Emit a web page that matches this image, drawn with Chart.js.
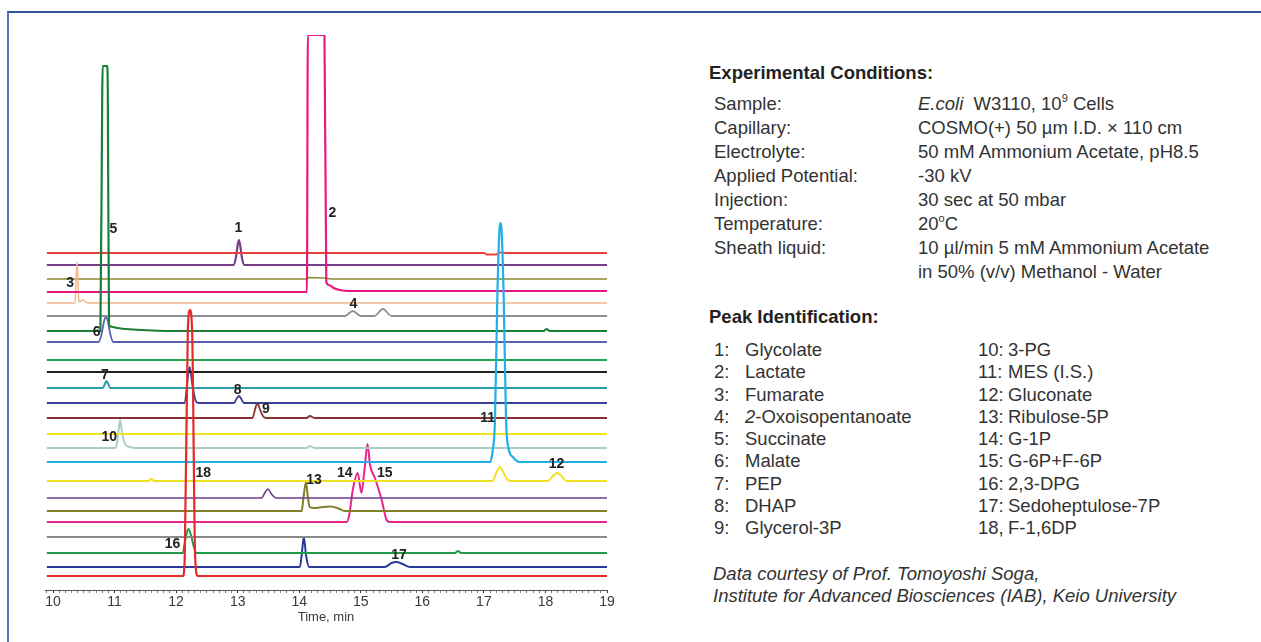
<!DOCTYPE html>
<html>
<head>
<meta charset="utf-8">
<script src="https://cdn.jsdelivr.net/npm/chart.js@4.4.1/dist/chart.umd.min.js"></script>
<style>
  html, body { margin:0; padding:0; background:#fff; }
  body { width:1261px; height:642px; position:relative; overflow:hidden; font-family:"Liberation Sans", Arial, sans-serif; color:#333; }
  #frame { position:absolute; left:7px; top:11px; width:1400px; height:800px; border-top:2px solid #2c5597; border-left:2px solid #5576b8; }
  #chartBox { position:absolute; left:0; top:0; width:640px; height:642px; }
  .t { position:absolute; white-space:nowrap; font-size:18.5px; line-height:20px; }
  .h { font-weight:bold; color:#222; }
  sup { font-size:11px; line-height:0; position:relative; top:-1px; }
</style>
</head>
<body>
<div id="frame"></div>
<div id="chartBox"><canvas id="c" width="640" height="642"></canvas></div>
<div id="panel"></div>
<script>
// ---------- DATA (time in min, signal height above each trace's baseline) ----------
const tr01 = [[9.9,0],[17.0,0],[17.05,-1.5],[17.2,-1.5],[17.25,0.5],[17.4,0],[19,0]];
const tr02 = [[9.9,0],[12.93,0],[12.97,7],[13.0,20],[13.02,25],[13.04,20],[13.07,7],[13.11,0],[19,0]];
const tr03 = [[9.9,0],[14.12,0],[14.14,1.5],[14.4,1],[14.55,0],[19,0]];
const tr04 = [[9.9,0],[14.125,0],[14.14,257],[14.41,257],[14.44,10],[14.48,7],[14.56,4],[14.66,2],[14.8,1],[19,1]];
const tr05 = [[9.9,0],[10.36,0],[10.375,25],[10.39,41],[10.405,25],[10.42,1],[10.45,2],[10.49,3],[10.53,1],[10.58,0],[19,0]];
const tr06 = [[9.9,0],[14.74,0],[14.87,5],[15.0,0],[15.22,0],[15.36,7],[15.5,0],[19,0]];
const tr07 = [[9.9,0],[10.77,0],[10.80,240],[10.807,265],[10.881,265],[10.89,240],[10.91,6],[10.97,4],[11.04,3],[11.3,1.5],[11.6,0.5],[12,0],[17.97,0],[18.02,2],[18.07,0],[19,0]];
const tr08 = [[9.9,0],[10.74,0],[10.79,8],[10.83,21],[10.86,25],[10.89,21],[10.93,8],[10.98,0],[19,0]];
const tr09 = [[9.9,0],[19,0]];
const tr10 = [[9.9,0],[19,0]];
const tr11 = [[9.9,0],[10.81,0],[10.85,5],[10.87,7],[10.89,5],[10.93,0],[19,0]];
const tr12 = [[9.9,0],[12.14,0],[12.18,20],[12.22,36],[12.26,20],[12.32,2],[12.36,0],[12.94,0],[12.98,4],[13.02,7],[13.06,4],[13.1,0],[19,0]];
const tr13 = [[9.9,0],[13.24,0],[13.28,8],[13.32,15],[13.36,9],[13.41,2],[13.46,0],[14.12,0],[14.17,2],[14.25,0],[19,0]];
const tr14 = [[9.9,0],[19,0]];
const tr15 = [[9.9,0],[11.02,0],[11.06,15],[11.09,28],[11.12,16],[11.17,4],[11.25,1],[11.35,0],[14.12,0],[14.17,2],[14.25,0],[19,0]];
const tr16 = [[9.9,0],[17.10,0],[17.14,10],[17.18,42],[17.22,170],[17.255,234],[17.27,239],[17.285,234],[17.32,170],[17.36,42],[17.40,14],[17.47,5],[17.58,0],[19,0]];
const tr17 = [[9.9,0],[11.55,0],[11.6,2],[11.65,0],[17.14,0],[17.2,8],[17.26,14],[17.32,8],[17.39,1],[17.45,0],[18.04,0],[18.12,5],[18.19,8],[18.26,5],[18.34,0],[19,0]];
const tr18 = [[9.9,0],[13.39,0],[13.44,5],[13.49,9],[13.55,4],[13.62,0],[19,0]];
const tr19 = [[9.9,0],[14.04,0],[14.07,14],[14.11,29],[14.14,14],[14.17,4],[14.24,3],[14.38,4],[14.5,4.5],[14.62,3],[14.74,0],[19,0]];
const tr20 = [[9.9,0],[14.77,0],[14.81,6],[14.87,32],[14.95,49],[15.01,29],[15.06,52],[15.11,78],[15.15,57],[15.23,44],[15.34,22],[15.42,2],[15.47,0],[19,0]];
const tr21 = [[9.9,0],[19,0]];
const tr22 = [[9.9,0],[12.11,0],[12.14,10],[12.2,24],[12.24,18],[12.28,8],[12.33,0],[16.53,0],[16.58,2],[16.63,0],[19,0]];
const tr23 = [[9.9,0],[14.01,0],[14.04,12],[14.075,30],[14.11,12],[14.16,0],[15.39,0],[15.5,4],[15.58,5],[15.68,3],[15.8,0],[19,0]];
const tr24 = [[9.9,0],[12.11,0],[12.14,18],[12.19,245],[12.225,266],[12.26,245],[12.31,18],[12.35,0],[19,0]];

const traces  = [tr01,tr02,tr03,tr04,tr05,tr06,tr07,tr08,tr09,tr10,tr11,tr12,tr13,tr14,tr15,tr16,tr17,tr18,tr19,tr20,tr21,tr22,tr23,tr24];
// vertical stacking offset of each trace's baseline
const offsets = [337,325,311,298,287,274,259,248,230,218,202,187,172,156,142,128,109,92,79,68,53,37,23,14];

const tickLabels = ['10','11','12','13','14','15','16','17','18','19'];

// peak number labels: [text, time, level]
const peakLabels = [
  ['1',13.01,362],['2',14.54,377],['3',10.28,307],['4',14.88,286],['5',10.98,361],
  ['6',10.71,258],['7',10.845,215],['8',13.0,200],['9',13.46,181],['10',10.915,153],
  ['11',17.06,172],['12',18.18,126],['13',14.24,110],['14',14.74,117],['15',15.39,117],
  ['16',11.94,46],['17',15.62,35],['18',12.44,117]
];

// ---------- STYLE ----------
const colors = ['#e8403a','#7a3d8c','#8c8a2e','#e9187f','#f2b88a','#8a9098','#18803a','#5a62b0',
                '#22a84a','#222222','#2a9ba8','#3a4098','#8a3030','#f2e41e','#a9cfc2','#1fb0e6',
                '#f0e020','#6e3c8a','#808028','#e8258c','#8a8a8a','#1f9a4a','#2a3898','#e52a2a'];
const widths = [1.8,2.2,1.6,2.2,1.5,1.8,2.2,1.8,2.2,2.2,2,1.8,1.8,2,2,2.2,2,1.6,2,2,1.8,2,2,2.2];
const drawOrder = {23:0, 15:1, 6:2, 3:3, 4:4};

const datasets = traces.map((tr, i) => ({
  data: tr.map(p => ({x: p[0], y: p[1] + offsets[i]})),
  borderColor: colors[i],
  borderWidth: widths[i],
  pointRadius: 0,
  fill: false,
  cubicInterpolationMode: 'monotone',
  order: (i in drawOrder) ? drawOrder[i] : 10
}));

const isInt = v => Math.abs(v - Math.round(v)) < 1e-6;

const labelPlugin = {
  id: 'peakLabels',
  afterDatasetsDraw(chart) {
    const {ctx, scales: {x, y}} = chart;
    ctx.save();
    ctx.font = 'bold 14px "Liberation Sans", Arial, sans-serif';
    ctx.fillStyle = '#222';
    ctx.textAlign = 'center';
    ctx.textBaseline = 'middle';
    peakLabels.forEach(([txt, t, v]) => ctx.fillText(txt, x.getPixelForValue(t), y.getPixelForValue(v)));
    ctx.restore();
  }
};

new Chart(document.getElementById('c'), {
  type: 'line',
  data: { datasets },
  plugins: [labelPlugin],
  options: {
    responsive: false,
    animation: false,
    devicePixelRatio: 1,
    layout: { padding: { left: 45, right: 33, top: 35, bottom: 17 } },
    plugins: { legend: { display: false }, tooltip: { enabled: false } },
    scales: {
      x: {
        type: 'linear', min: 9.87, max: 19,
        afterBuildTicks: s => {
          const t = [];
          for (let i = 99; i <= 190; i++) t.push({ value: i / 10 });
          s.ticks = t;
        },
        afterFit: s => { s.height = 35; },
        grid: {
          drawOnChartArea: false, drawTicks: true, tickLength: 3,
          tickColor: c => (c.tick && isInt(c.tick.value)) ? '#333' : '#777',
          tickWidth: 1
        },
        border: { display: true, color: '#555', width: 1 },
        ticks: {
          autoSkip: false, maxRotation: 0, minRotation: 0, padding: 1,
          color: '#3a3a3a',
          font: { family: '"Liberation Sans", Arial, sans-serif', size: 14 },
          callback: v => isInt(v) ? tickLabels[Math.round(v) - 10] : ''
        },
        title: {
          display: true, text: 'Time, min', color: '#3a3a3a',
          font: { family: '"Liberation Sans", Arial, sans-serif', size: 13 },
          padding: { top: 2, bottom: 0 }
        }
      },
      y: { display: false, min: 0, max: 555 }
    }
  }
});

// ---------- TEXT PANEL ----------
const condLabels = ['Sample:','Capillary:','Electrolyte:','Applied Potential:','Injection:','Temperature:','Sheath liquid:',''];
const condValues = ['<i>E.coli</i>&nbsp; W3110, 10<sup>9</sup> Cells','COSMO(+) 50 µm I.D. × 110 cm','50 mM Ammonium Acetate, pH8.5',
                    '-30 kV','30 sec at 50 mbar','20<sup>o</sup>C','10 µl/min 5 mM Ammonium Acetate','in 50% (v/v) Methanol - Water'];
const peakNames = ['Glycolate','Lactate','Fumarate','<i>2</i>-Oxoisopentanoate','Succinate','Malate','PEP','DHAP','Glycerol-3P',
                   '3-PG','MES (I.S.)','Gluconate','Ribulose-5P','G-1P','G-6P+F-6P','2,3-DPG','Sedoheptulose-7P','F-1,6DP'];

const panel = document.getElementById('panel');
function put(html, x, cy, cls) {
  const d = document.createElement('div');
  d.className = 't ' + (cls || '');
  d.style.left = x + 'px';
  d.style.top = (cy - 10) + 'px';
  d.innerHTML = html;
  panel.appendChild(d);
}
put('Experimental Conditions:', 709, 73, 'h');
condLabels.forEach((l, i) => { if (l) put(l, 714, 104 + 24 * i); put(condValues[i], 918, 104 + 24 * i); });
put('Peak Identification:', 709, 317, 'h');
peakNames.forEach((n, i) => {
  const col = i < 9 ? 0 : 1, row = i % 9, cy = 350 + 22.25 * row;
  if (col === 0) { put((i + 1) + ':', 714, cy); put(n, 745, cy); }
  else { put((i + 1) + (i === 17 ? ',' : ':'), 978, cy); put(n, 1008, cy); }
});
put('<i>Data courtesy of Prof. Tomoyoshi Soga,</i>', 713, 574);
put('<i>Institute for Advanced Biosciences (IAB), Keio University</i>', 713, 596);
</script>
</body>
</html>
